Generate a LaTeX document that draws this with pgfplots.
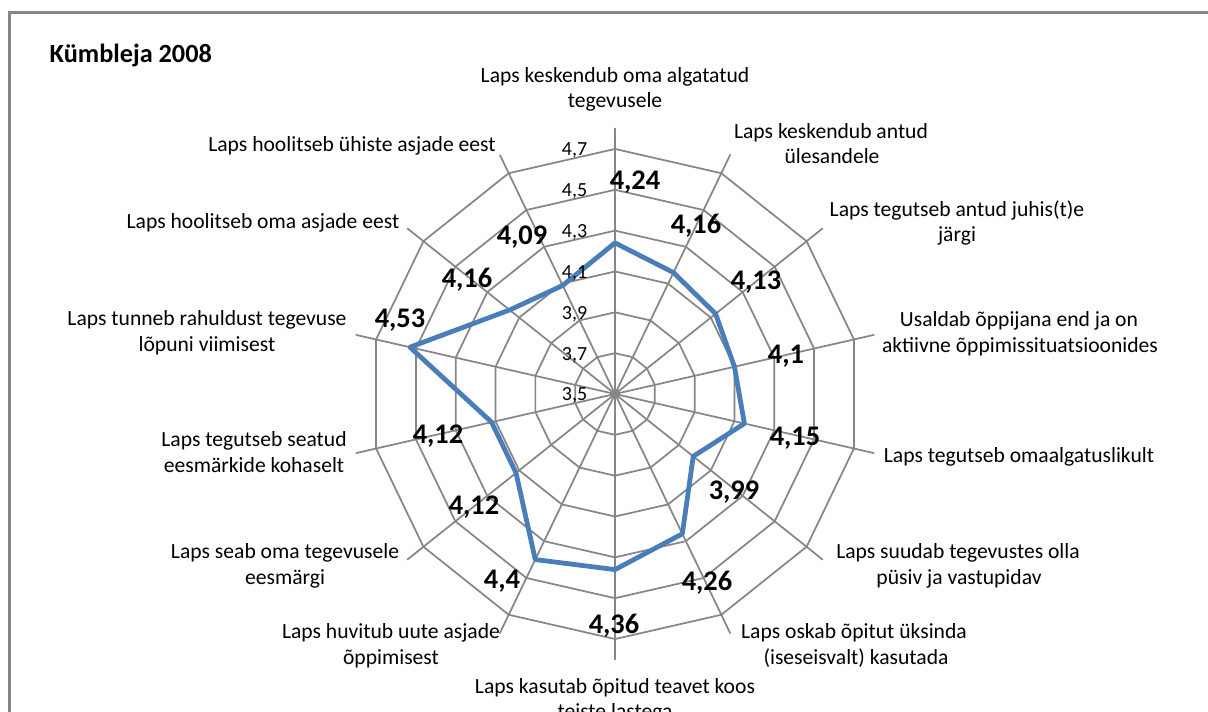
\documentclass[border=0pt]{standalone}
\usepackage{fontspec}
\setmainfont{Carlito}
\usepackage{pgfplots}
\usepackage{pgfplotstable}
\pgfplotsset{compat=1.18}

\definecolor{gridc}{RGB}{134,134,134}
\definecolor{serie}{RGB}{74,126,187}
\definecolor{frame}{RGB}{134,134,134}

% 14 kategooriat, päripäeva alates ülevalt
\pgfplotstableread{
i v
0 4.24
1 4.16
2 4.13
3 4.1
4 4.15
5 3.99
6 4.26
7 4.36
8 4.4
9 4.12
10 4.12
11 4.53
12 4.16
13 4.09
14 4.24
}\kumbleja

\pgfplotstableread{
i v
0 0
1 0
2 0
3 0
4 0
5 0
6 0
7 0
8 0
9 0
10 0
11 0
12 0
13 0
14 0
}\nurgad

% kiired keskelt välja (veidi üle 4,7 ringi)
\pgfplotstableread{
i v
0 3.5
0 4.8
1 3.5
1 4.8
2 3.5
2 4.8
3 3.5
3 4.8
4 3.5
4 4.8
5 3.5
5 4.8
6 3.5
6 4.8
7 3.5
7 4.8
8 3.5
8 4.8
9 3.5
9 4.8
10 3.5
10 4.8
11 3.5
11 4.8
12 3.5
12 4.8
13 3.5
13 4.8
}\kiired

\newcommand{\cat}[3]{\node[font=\fontsize{16.2pt}{19pt}\selectfont, anchor=base] at (#1,#2+6.5) {#3};}
\newcommand{\val}[3]{\node[font=\fontsize{21.3pt}{25pt}\selectfont\bfseries, anchor=base] at (#1,#2) {#3};}
\tikzset{tik/.style={font=\fontsize{15pt}{18pt}\selectfont, anchor=base east}}

\begin{document}
\begin{tikzpicture}
\path[use as bounding box] (0,0) rectangle (906pt,-534pt);
\clip (0,0) rectangle (906pt,-534pt);

\begin{axis}[
  at={(461.25pt,-295.5pt)}, anchor=center,
  x=153.15pt, y=153.15pt,
  xmin=-1.3, xmax=1.3, ymin=-1.3, ymax=1.3,
  hide axis, clip=false,
]
% ringid
\pgfplotsinvokeforeach{3.7,3.9,4.1,4.3,4.5,4.7}{
  \addplot[gridc, line width=1.3pt, line join=round, mark=none]
    table[x expr={(#1-3.5)*sin(\thisrow{i}*360/14)},
          y expr={(#1-3.5)*cos(\thisrow{i}*360/14)}] {\nurgad};
}
% kiired
\addplot[gridc, line width=1.3pt, line join=round, mark=none]
  table[x expr={(\thisrow{v}-3.5)*sin(\thisrow{i}*360/14)},
        y expr={(\thisrow{v}-3.5)*cos(\thisrow{i}*360/14)}] {\kiired};

% andmed
\addplot[serie, line width=3.6pt, line join=round, mark=none]
  table[x expr={(\thisrow{v}-3.5)*sin(\thisrow{i}*360/14)},
        y expr={(\thisrow{v}-3.5)*cos(\thisrow{i}*360/14)}] {\kumbleja};

% telje väärtused
\node[tik] at (axis cs:-0.113,-0.034) {3,5};
\node[tik] at (axis cs:-0.113,0.166) {3,7};
\node[tik] at (axis cs:-0.113,0.366) {3,9};
\node[tik] at (axis cs:-0.113,0.566) {4,1};
\node[tik] at (axis cs:-0.113,0.766) {4,3};
\node[tik] at (axis cs:-0.113,0.966) {4,5};
\node[tik] at (axis cs:-0.113,1.166) {4,7};
\end{axis}

\begin{scope}[x=0.75pt,y=-0.75pt]
\draw[frame, line width=1.6pt] (9.5,740) -- (9.5,12.5) -- (1230,12.5);

\node[font=\fontsize{19.7pt}{23pt}\selectfont\bfseries, anchor=base west] at (45,63) {Kümbleja 2008};

\cat{615}{76}{Laps keskendub oma algatatud}
\cat{615}{101}{tegevusele}
\cat{831}{132}{Laps keskendub antud}
\cat{832}{157}{ülesandele}
\cat{957}{210}{Laps tegutseb antud juhis(t)e}
\cat{957}{235}{järgi}
\cat{1019}{320}{Usaldab õppijana end ja on}
\cat{1020}{346}{aktiivne õppimissituatsioonides}
\cat{1019}{456}{Laps tegutseb omaalgatuslikult}
\cat{958}{552}{Laps suudab tegevustes olla}
\cat{959}{578}{püsiv ja vastupidav}
\cat{854}{632}{Laps oskab õpitut üksinda}
\cat{856}{658}{(iseseisvalt) kasutada}
\cat{615}{687}{Laps kasutab õpitud teavet koos}
\cat{615}{712}{teiste lastega}
\cat{391}{632}{Laps huvitub uute asjade}
\cat{391}{658}{õppimisest}
\cat{285}{552}{Laps seab oma tegevusele}
\cat{285}{578}{eesmärgi}
\cat{254}{440}{Laps tegutseb seatud}
\cat{254}{466}{eesmärkide kohaselt}
\cat{207}{319}{Laps tunneb rahuldust tegevuse}
\cat{207}{345}{lõpuni viimisest}
\cat{263}{222}{Laps hoolitseb oma asjade eest}
\cat{352}{145}{Laps hoolitseb ühiste asjade eest}

\val{635}{190}{4,24}
\val{696}{234}{4,16}
\val{756}{290}{4,13}
\val{786}{364}{4,1}
\val{795}{446}{4,15}
\val{734}{500}{3,99}
\val{707}{591}{4,26}
\val{614}{634}{4,36}
\val{502}{589}{4,4}
\val{474}{515}{4,12}
\val{438}{444}{4,12}
\val{400}{328}{4,53}
\val{467}{288}{4,16}
\val{522}{245}{4,09}
\end{scope}
\end{tikzpicture}
\end{document}
